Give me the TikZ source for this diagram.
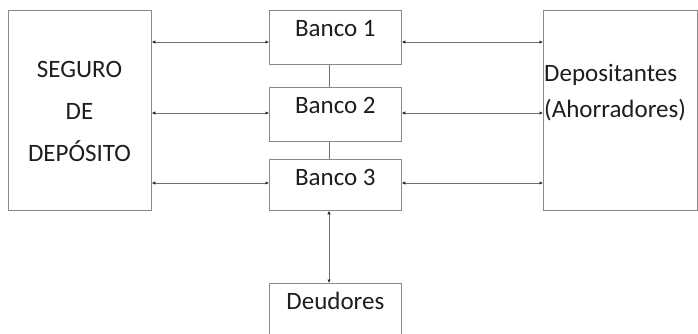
\documentclass[tikz,border=0pt]{standalone}
\usepackage{fontspec}
\setmainfont{Carlito}
\usetikzlibrary{arrows.meta}
\definecolor{boxgray}{HTML}{8A8A8A}
\definecolor{linegray}{HTML}{707070}
\definecolor{txt}{HTML}{1E1E1E}
\begin{document}
\begin{tikzpicture}[x=1pt,y=-1pt,
  box/.style={draw=boxgray, line width=0.8pt, inner sep=0pt, minimum width=132pt,
    text height=26pt, text depth=28pt, anchor=north west,
    font=\fontsize{25}{30}\selectfont, text=txt},
  bigbox/.style={draw=boxgray, line width=0.8pt, inner sep=0pt, anchor=north west, minimum height=200pt},
  lbl/.style={inner sep=0pt, font=\fontsize{25}{30}\selectfont, text=txt},
  tip/.tip={Latex[length=3.5pt,width=3.4pt,color=black!85]},
  link/.style={draw=linegray, line width=0.8pt, tip-tip},
  plain/.style={draw=linegray, line width=0.8pt}]
\useasboundingbox (0,0) rectangle (698,333);
\clip (0,0) rectangle (698,333);
\fill[white] (0,0) rectangle (698,333);
% boxes
\node[bigbox, minimum width=143pt] (seg) at (8,10) {};
\node[bigbox, minimum width=154pt] (dep) at (543,10) {};
\node[box] (b1) at (269,10) {Banco 1};
\node[box] (b2) at (269,87) {Banco 2};
\node[box, text depth=25pt] (b3) at (269,159) {Banco 3};
\node[box, text depth=60pt] (deu) at (269,283) {Deudores};
% texts in big boxes
\node[lbl, align=center, font=\fontsize{25}{42}\selectfont] (segt) at (79.5,111) {SEGURO\\DE\\DEPÓSITO};
\node[lbl, align=left, font=\fontsize{25}{36}\selectfont, anchor=west] (dept) at (544,93) {Depositantes\\(Ahorradores)};
% reference coordinates
\coordinate (r1) at (0,42);
\coordinate (r2) at (0,113);
\coordinate (r3) at (0,183);
\coordinate (vx) at (329,0);
% connectors
\draw[link] (seg.east |- r1) -- (b1.west |- r1);
\draw[link] (seg.east |- r2) -- (b2.west |- r2);
\draw[link] (seg.east |- r3) -- (b3.west |- r3);
\draw[link] (b1.east |- r1) -- (dep.west |- r1);
\draw[link] (b2.east |- r2) -- (dep.west |- r2);
\draw[link] (b3.east |- r3) -- (dep.west |- r3);
\draw[plain] (b1.south -| vx) -- (b2.north -| vx);
\draw[plain] (b2.south -| vx) -- (b3.north -| vx);
\draw[link] (b3.south -| vx) -- (deu.north -| vx);
\end{tikzpicture}
\end{document}
